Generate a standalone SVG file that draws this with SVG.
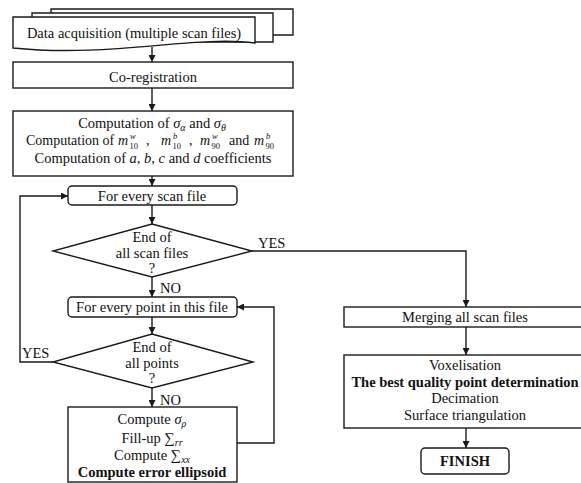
<svg xmlns="http://www.w3.org/2000/svg" width="581" height="483" viewBox="0 0 581 483">
<defs>
<style>
.b{fill:#fff;stroke:#1a1a1a;stroke-width:1.4}
.c{fill:none;stroke:#1a1a1a;stroke-width:1.4}
text{font-family:"Liberation Serif","Times New Roman",serif;font-size:14.5px;fill:#111}
.m{text-anchor:middle}
.bd{font-weight:bold}
.i{font-style:italic}
.s{font-size:10px}
.ss{font-size:8.5px}
.sm{font-size:14px}
</style>
<marker id="ah" viewBox="0 0 10 10" refX="10" refY="5" markerWidth="7" markerHeight="7" markerUnits="userSpaceOnUse" orient="auto">
<path d="M0,0 L10,5 L0,10 Z" fill="#1a1a1a"/>
</marker>
</defs>
<rect width="581" height="483" fill="#fff"/>

<g id="connectors">
<path class="c" d="M152,47 V62" marker-end="url(#ah)"/>
<path class="c" d="M152,88 V111" marker-end="url(#ah)"/>
<path class="c" d="M152,176 V186" marker-end="url(#ah)"/>
<path class="c" d="M152,205 V224" marker-end="url(#ah)"/>
<path class="c" d="M252,251 H466 V307" marker-end="url(#ah)"/>
<path class="c" d="M152,277 V297" marker-end="url(#ah)"/>
<path class="c" d="M152,317 V334" marker-end="url(#ah)"/>
<path class="c" d="M152,388 V407" marker-end="url(#ah)"/>
<path class="c" d="M237,443 H274 V307 H237" marker-end="url(#ah)"/>
<path class="c" d="M53,362 H20 V196 H68" marker-end="url(#ah)"/>
<path class="c" d="M466,327 V355" marker-end="url(#ah)"/>
<path class="c" d="M466,428 V448" marker-end="url(#ah)"/>
<text x="258" y="248">YES</text>
<text x="160" y="293">NO</text>
<text x="160" y="405">NO</text>
<text x="22" y="358">YES</text>
</g>

<g id="data-acquisition">
<path class="b" d="M51,9 H293 V35 H51 Z"/>
<path class="b" d="M32,13 H273 V42 H32 Z"/>
<path class="b" d="M13,17 H255 V43 C195,35 110,58 13,48 Z"/>
<text class="m" x="134" y="38">Data acquisition (multiple scan files)</text>
</g>

<g id="co-registration">
<rect class="b" x="13" y="62" width="280" height="26"/>
<text class="m" x="153" y="82">Co-registration</text>
</g>

<g id="computation">
<rect class="b" x="13" y="111" width="280" height="65"/>
<text class="m" x="152" y="128">Computation of <tspan class="i">σ</tspan><tspan class="i s" dy="3">α</tspan><tspan dy="-3"> and </tspan><tspan class="i">σ</tspan><tspan class="i s" dy="3">θ</tspan></text>
<text class="sm" y="145"><tspan x="26">Computation of</tspan><tspan class="i" x="118">m</tspan><tspan class="i ss" x="130" y="138.5">w</tspan><tspan class="ss" x="129.5" y="148.5">10</tspan><tspan x="146" y="145">,</tspan><tspan class="i" x="161">m</tspan><tspan class="i ss" x="173" y="138.5">b</tspan><tspan class="ss" x="172.5" y="148.5">10</tspan><tspan x="189" y="145">,</tspan><tspan class="i" x="200">m</tspan><tspan class="i ss" x="212" y="138.5">w</tspan><tspan class="ss" x="211.5" y="148.5">90</tspan><tspan x="229" y="145">and</tspan><tspan class="i" x="254">m</tspan><tspan class="i ss" x="266" y="138.5">b</tspan><tspan class="ss" x="265.5" y="148.5">90</tspan></text>
<text class="m" x="153" y="163">Computation of <tspan class="i">a, b, c</tspan> and <tspan class="i">d</tspan> coefficients</text>
</g>

<g id="every-scan-file">
<rect class="b" x="68" y="186" width="169" height="19" rx="4"/>
<text class="m" x="152" y="201">For every scan file</text>
</g>

<g id="end-scan-files">
<path class="b" d="M152,224 L252,251 L152,277 L53,251 Z"/>
<text class="m" x="152" y="242">End of</text>
<text class="m" x="152" y="258">all scan files</text>
<text class="m" x="152" y="273">?</text>
</g>

<g id="every-point">
<rect class="b" x="68" y="297" width="169" height="20" rx="4"/>
<text class="m" x="152" y="312">For every point in this file</text>
</g>

<g id="end-points">
<path class="b" d="M152,334 L253,362 L152,388 L53,362 Z"/>
<text class="m" x="152" y="352">End of</text>
<text class="m" x="152" y="368">all points</text>
<text class="m" x="152" y="383">?</text>
</g>

<g id="compute">
<rect class="b" x="68" y="407" width="169" height="75"/>
<text class="m" x="152" y="424">Compute <tspan class="i">σ</tspan><tspan class="i s" dy="3">ρ</tspan></text>
<text class="m" x="152" y="443">Fill-up ∑<tspan class="i s" dy="3">rr</tspan></text>
<text class="m" x="152" y="460">Compute ∑<tspan class="i s" dy="3">xx</tspan></text>
<text class="m bd" x="152" y="477">Compute error ellipsoid</text>
</g>

<g id="merging">
<rect class="b" x="344" y="307" width="250" height="20"/>
<text class="m" x="465" y="322">Merging all scan files</text>
</g>

<g id="voxelisation">
<rect class="b" x="344" y="355" width="250" height="73"/>
<text class="m" x="465" y="370">Voxelisation</text>
<text class="m bd" x="465" y="387">The best quality point determination</text>
<text class="m" x="465" y="403">Decimation</text>
<text class="m" x="465" y="420">Surface triangulation</text>
</g>

<g id="finish">
<rect class="b" x="421" y="448" width="88" height="26" rx="4"/>
<text class="m bd" x="465" y="466">FINISH</text>
</g>
</svg>
